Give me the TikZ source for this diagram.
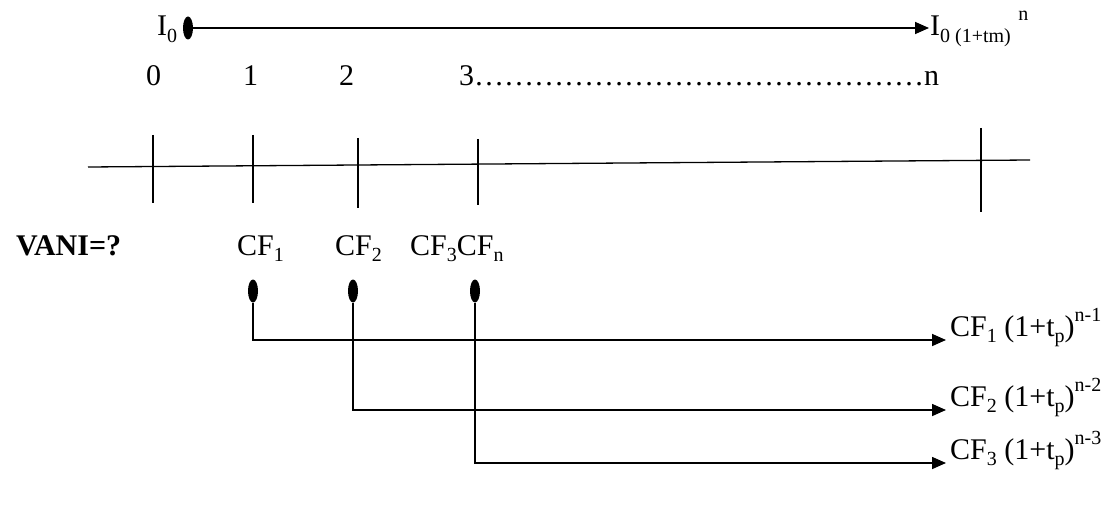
\documentclass[tikz,border=0pt]{standalone}
\usepackage{fontspec}
\setmainfont{Liberation Serif}
\usetikzlibrary{arrows.meta,shapes.geometric}
\newcommand\sbs[1]{\raisebox{-0.22em}{\fontsize{20pt}{20pt}\selectfont #1}}
\newcommand\sps[1]{\raisebox{0.5em}{\fontsize{20pt}{20pt}\selectfont #1}}
\begin{document}
\begin{tikzpicture}[x=1pt,y=-1pt,font=\fontsize{30pt}{36pt}\selectfont,
  lbl/.style={inner sep=0pt,anchor=base west},
  conn/.style={line width=1.6pt,-{Triangle[length=14pt,width=12pt]}},
  tl/.style={line width=1.3pt},
  dotE/.style={ellipse,fill=black,inner sep=0pt,minimum width=10pt,minimum height=23pt}]
\path[use as bounding box] (0,0) rectangle (1116,508);
% top line
\node[lbl] (I0l) at (157,36) {I\sbs{0}};
\node[dotE] (dT) at (188,28) {};
\coordinate (tT) at (929,28);
\draw[conn] (dT.east) -- (tT);
\node[lbl] (I0r) at (930,36) {I\sbs{0 (1+tm)} \sps{n}};
% numbers
\node[lbl] (n0) at (146,86) {0};
\node[lbl] (n1) at (243,86) {1};
\node[lbl] (n2) at (339,86) {2};
\node[lbl] (n3) at (459,86) {3………………………………………n};
% timeline
\coordinate (tlA) at (88,167);
\coordinate (tlB) at (1030,160);
\draw[tl] (tlA) -- (tlB);
\foreach \x/\a/\b in {153/135/203,253/135/203,358/138/208,478/139/205,981/128/212}{
  \coordinate (ka) at (\x,\a); \coordinate (kb) at (\x,\b);
  \draw[tl] (ka) -- (kb);}
% labels
\node[lbl] (vani) at (16,255) {\bfseries VANI=?};
\node[lbl] (cf1) at (237,255) {CF\sbs{1}};
\node[lbl] (cf2) at (335,255) {CF\sbs{2}};
\node[lbl] (cf3) at (410,255) {CF\sbs{3}CF\sbs{n}};
% dots and arrows
\node[dotE] (d1) at (253,291) {};
\node[dotE] (d2) at (353,291) {};
\node[dotE] (d3) at (475,291) {};
\coordinate (t1) at (946,340);
\coordinate (t2) at (946,410);
\coordinate (t3) at (946,463);
\draw[conn] (d1.south) |- (t1);
\draw[conn] (d2.south) |- (t2);
\draw[conn] (d3.south) |- (t3);
\node[lbl] (r1) at (950,336) {CF\sbs{1} (1+t\sbs{p})\sps{n-1}};
\node[lbl] (r2) at (950,406) {CF\sbs{2} (1+t\sbs{p})\sps{n-2}};
\node[lbl] (r3) at (950,459) {CF\sbs{3} (1+t\sbs{p})\sps{n-3}};
\end{tikzpicture}
\end{document}
